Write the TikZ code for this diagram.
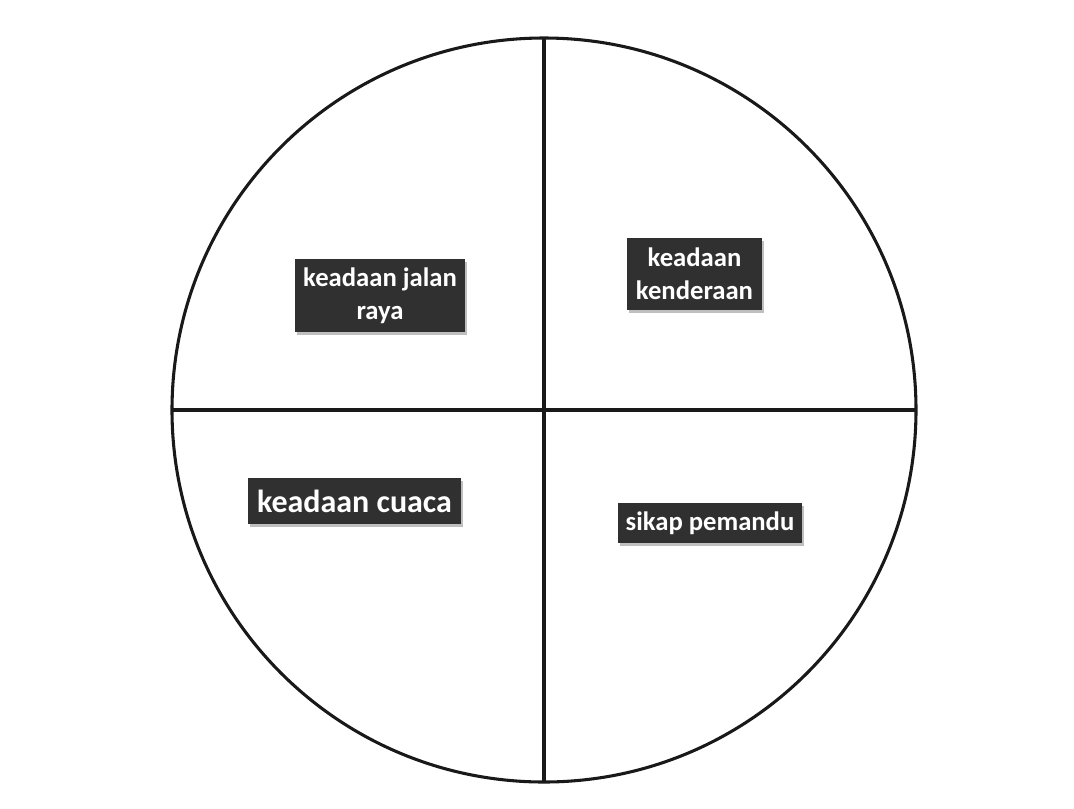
\documentclass[tikz,border=0pt]{standalone}
\usepackage{fontspec}
\setmainfont{Carlito}
\usetikzlibrary{shadows}
\definecolor{boxfill}{HTML}{303030}
\tikzset{
  lab/.style={fill=boxfill, text=white, font=\bfseries\fontsize{20}{25}\selectfont, align=center, inner sep=0pt,
    drop shadow={shadow xshift=1.5pt, shadow yshift=-2pt, fill=black, opacity=0.25}},
  ring/.style={line width=2.3pt, draw=black!90}
}
\begin{document}
\begin{tikzpicture}[x=0.75pt,y=-0.75pt]
\useasboundingbox[fill=white] (0,0) rectangle (1074,808);
\coordinate (c) at (544,410);
\draw[ring] (c) circle [radius=372];
\coordinate (t) at (544,38);
\coordinate (b) at (544,782);
\coordinate (l) at (172,410);
\coordinate (r) at (916,410);
\draw[ring] (t) -- (b);
\draw[ring] (l) -- (r);
\node[lab, minimum width=170*0.75pt, minimum height=73*0.75pt] (jalan) at (380,295.5) {keadaan jalan\\raya};
\node[lab, minimum width=135*0.75pt, minimum height=72*0.75pt] (kend) at (694.5,274) {keadaan\\kenderaan};
\node[lab, minimum width=213*0.75pt, minimum height=46*0.75pt, font=\bfseries\fontsize{24}{28}\selectfont] (cuaca) at (354.5,501) {keadaan cuaca};
\node[lab, minimum width=184*0.75pt, minimum height=40*0.75pt] (sikap) at (710,523) {sikap pemandu};
\end{tikzpicture}
\end{document}
